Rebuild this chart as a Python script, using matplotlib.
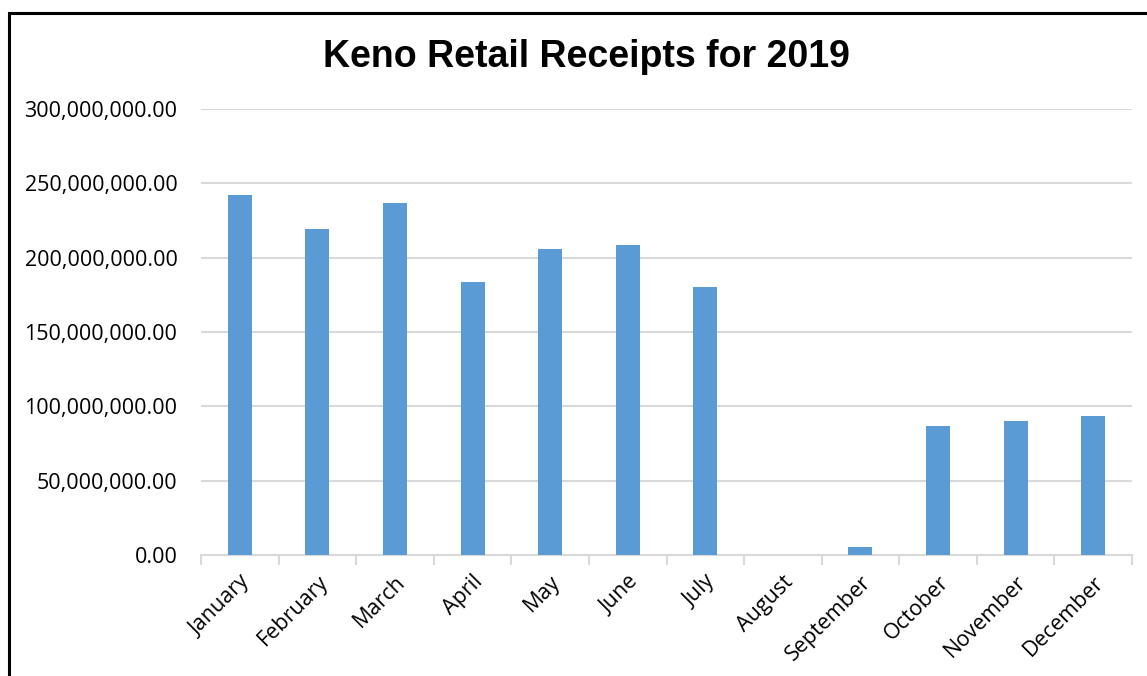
import matplotlib.pyplot as plt
import matplotlib.patches as mpatches
from matplotlib.ticker import FuncFormatter
import numpy as np

months = ["January", "February", "March", "April", "May", "June", "July",
          "August", "September", "October", "November", "December"]
receipts = [242.0e6, 219.5e6, 236.7e6, 183.8e6, 205.8e6, 208.2e6, 180.2e6,
            0.0, 5.4e6, 86.8e6, 90.0e6, 93.3e6]
yticks = [0, 50e6, 100e6, 150e6, 200e6, 250e6, 300e6]

fig = plt.figure(figsize=(11.47, 6.76), dpi=100)
ax = fig.add_axes([201 / 1147, 1 - 555 / 676, (1132 - 201) / 1147, (555 - 109) / 676])

# outer chart frame (only left and top visible in the crop)
frame = mpatches.Rectangle((9 / 1147, -0.1), 1.2, (676 - 13) / 676 + 0.1,
                           transform=fig.transFigure, fill=False,
                           edgecolor="black", linewidth=2.2, zorder=10)
fig.patches.append(frame)

x = np.arange(len(months))
ax.bar(x, receipts, width=0.31, color="#5b9bd5", zorder=3)

ax.set_xlim(-0.5, len(months) - 0.5)
ax.set_ylim(0, 300e6)
ax.set_yticks(yticks)
ax.yaxis.set_major_formatter(FuncFormatter(lambda v, p: f"{v:,.2f}"))
ax.grid(axis="y", color="#d9d9d9", linewidth=1.5, zorder=0)
ax.tick_params(axis="y", length=0, pad=17, labelsize=15.5)

ax.set_xticks(x)
ax.set_xticklabels(months, rotation=45, ha="right", rotation_mode="anchor",
                   fontsize=15.5)
ax.tick_params(axis="x", length=0, pad=12)
ax.set_xticks(np.arange(-0.5, len(months)), minor=True)
ax.tick_params(axis="x", which="minor", length=7, width=1.5, color="#d9d9d9")

for s in ["top", "right", "left"]:
    ax.spines[s].set_visible(False)
ax.spines["bottom"].set_color("#d9d9d9")
ax.spines["bottom"].set_linewidth(1.5)

for lab in ax.get_xticklabels() + ax.get_yticklabels():
    lab.set_fontfamily("Open Sans")

fig.text(586 / 1147, 1 - 57 / 676, "Keno Retail Receipts for 2019",
         ha="center", va="center", fontsize=27, fontweight="bold",
         fontfamily="Liberation Sans")

fig.savefig("out.png", dpi=100)
